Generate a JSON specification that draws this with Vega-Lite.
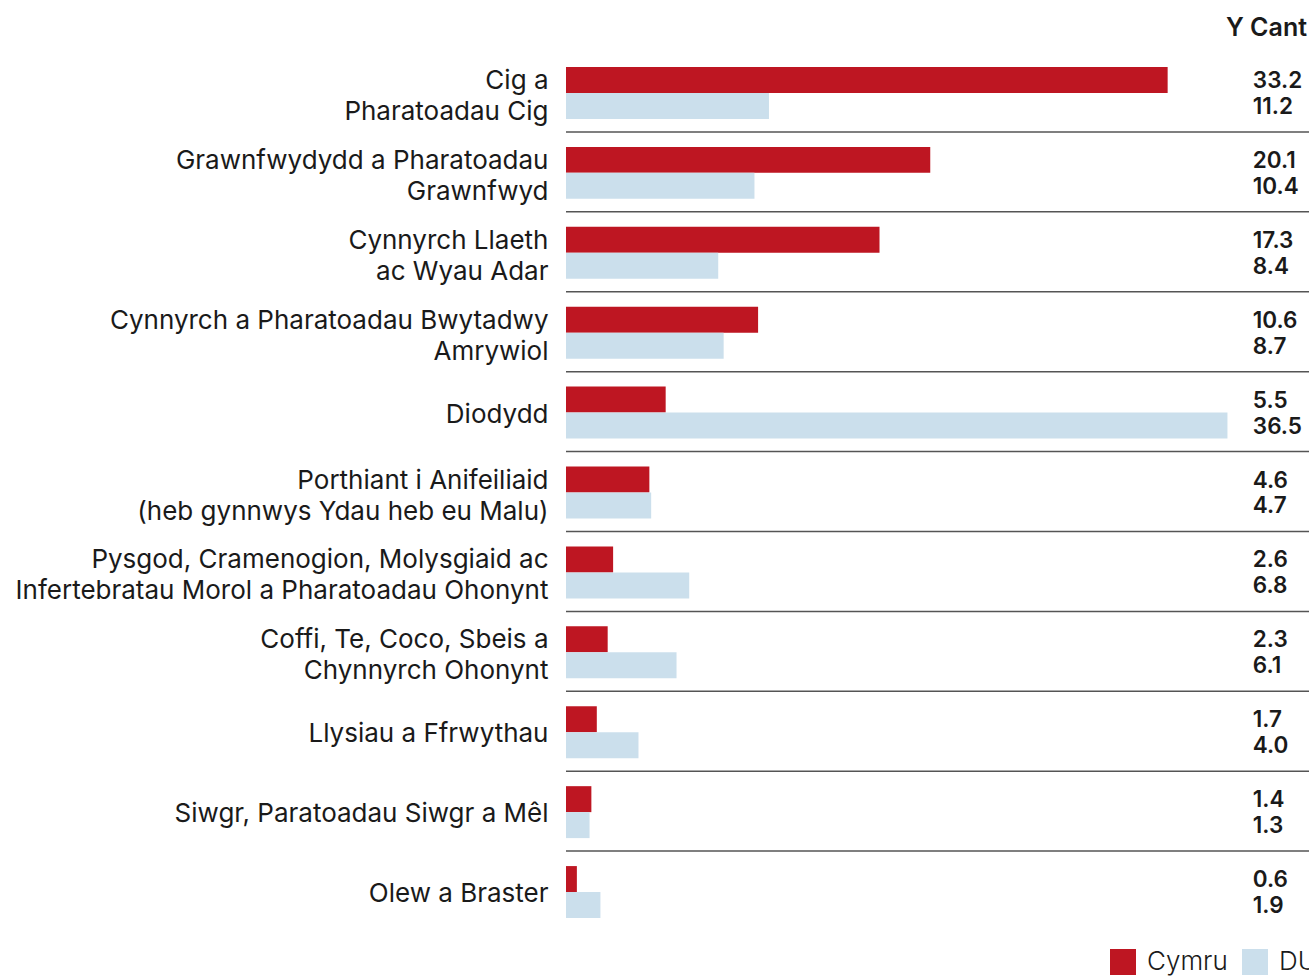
{
  "$schema": "https://vega.github.io/schema/vega-lite/v6.json",
  "autosize": "none",
  "width": 743,
  "height": 879,
  "padding": {"left": 566, "top": 53, "right": 0, "bottom": 44},
  "background": "white",
  "title": {"text": "Y Cant", "anchor": "end", "orient": "top", "baseline": "alphabetic", "offset": 16, "dx": -10, "dy": 24, "fontSize": 25, "fontWeight": 600, "font": "Inter", "color": "#1a1a1a"},
  "config": {"view": {"stroke": null}, "font": "Inter"},
  "data": {"values": [
    {"cat": "Cig a|Pharatoadau Cig", "series": "Cymru", "value": 33.2},
    {"cat": "Cig a|Pharatoadau Cig", "series": "DU", "value": 11.2},
    {"cat": "Grawnfwydydd a Pharatoadau|Grawnfwyd", "series": "Cymru", "value": 20.1},
    {"cat": "Grawnfwydydd a Pharatoadau|Grawnfwyd", "series": "DU", "value": 10.4},
    {"cat": "Cynnyrch Llaeth|ac Wyau Adar", "series": "Cymru", "value": 17.3},
    {"cat": "Cynnyrch Llaeth|ac Wyau Adar", "series": "DU", "value": 8.4},
    {"cat": "Cynnyrch a Pharatoadau Bwytadwy|Amrywiol", "series": "Cymru", "value": 10.6},
    {"cat": "Cynnyrch a Pharatoadau Bwytadwy|Amrywiol", "series": "DU", "value": 8.7},
    {"cat": "Diodydd", "series": "Cymru", "value": 5.5},
    {"cat": "Diodydd", "series": "DU", "value": 36.5},
    {"cat": "Porthiant i Anifeiliaid|(heb gynnwys Ydau heb eu Malu)", "series": "Cymru", "value": 4.6},
    {"cat": "Porthiant i Anifeiliaid|(heb gynnwys Ydau heb eu Malu)", "series": "DU", "value": 4.7},
    {"cat": "Pysgod, Cramenogion, Molysgiaid ac|Infertebratau Morol a Pharatoadau Ohonynt", "series": "Cymru", "value": 2.6},
    {"cat": "Pysgod, Cramenogion, Molysgiaid ac|Infertebratau Morol a Pharatoadau Ohonynt", "series": "DU", "value": 6.8},
    {"cat": "Coffi, Te, Coco, Sbeis a|Chynnyrch Ohonynt", "series": "Cymru", "value": 2.3},
    {"cat": "Coffi, Te, Coco, Sbeis a|Chynnyrch Ohonynt", "series": "DU", "value": 6.1},
    {"cat": "Llysiau a Ffrwythau", "series": "Cymru", "value": 1.7},
    {"cat": "Llysiau a Ffrwythau", "series": "DU", "value": 4.0},
    {"cat": "Siwgr, Paratoadau Siwgr a Mêl", "series": "Cymru", "value": 1.4},
    {"cat": "Siwgr, Paratoadau Siwgr a Mêl", "series": "DU", "value": 1.3},
    {"cat": "Olew a Braster", "series": "Cymru", "value": 0.6},
    {"cat": "Olew a Braster", "series": "DU", "value": 1.9}
  ]},
  "encoding": {
    "y": {
      "field": "cat", "type": "nominal", "sort": null,
      "scale": {"paddingInner": 0.35, "paddingOuter": 0.175},
      "axis": {
        "title": null, "domain": false, "ticks": false, "grid": false,
        "labelPadding": 18, "labelFontSize": 26, "labelFont": "Inter", "labelColor": "#1a1a1a",
        "labelLineHeight": 31, "labelLimit": 700, "labelBaseline": "middle",
        "labelOffset": {"condition": {"test": "indexof(datum.value, '|') >= 0", "value": -12}, "value": 2},
        "labelExpr": "split(datum.label, '|')"
      }
    }
  },
  "layer": [
    {
      "transform": [{"filter": "datum.series === 'Cymru' && datum.cat !== 'Olew a Braster'"}],
      "mark": {"type": "rule", "color": "#555555", "strokeWidth": 1.5, "yOffset": 13},
      "encoding": {
        "y": {"field": "cat", "type": "nominal", "sort": null, "bandPosition": 1}
      }
    },
    {
      "mark": {"type": "bar", "cornerRadius": 0},
      "encoding": {
        "x": {"field": "value", "type": "quantitative", "scale": {"domain": [0, 41], "nice": false}, "axis": null},
        "yOffset": {"field": "series", "type": "nominal", "scale": {"paddingInner": 0, "paddingOuter": 0}},
        "color": {
          "field": "series", "type": "nominal",
          "scale": {"domain": ["Cymru", "DU"], "range": ["#be1622", "#cbdfec"]},
          "legend": {
            "title": null, "orient": "none", "legendX": 544, "legendY": 896,
            "direction": "horizontal", "symbolType": "square", "symbolSize": 676,
            "symbolStrokeWidth": 0, "labelFontSize": 26, "labelFontWeight": 300,
            "labelFont": "Inter", "labelColor": "#1a1a1a", "padding": 0,
            "columnPadding": 14, "labelOffset": 11, "labelLimit": 200
          }
        }
      }
    },
    {
      "mark": {"type": "text", "align": "left", "baseline": "middle", "fontSize": 22.5, "fontWeight": 600, "font": "Inter", "color": "#1a1a1a", "dy": 1},
      "encoding": {
        "x": {"datum": 37.9, "type": "quantitative"},
        "yOffset": {"field": "series", "type": "nominal"},
        "text": {"field": "value", "type": "quantitative", "format": ".1f"}
      }
    }
  ]
}
